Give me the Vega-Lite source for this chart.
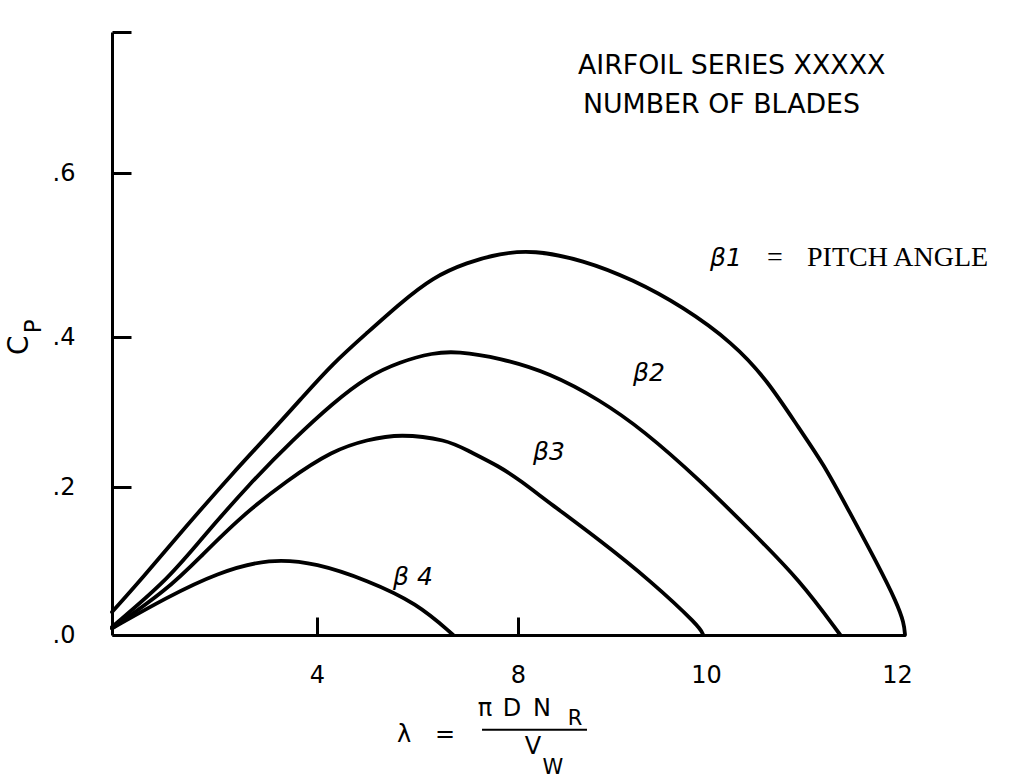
{
  "$schema": "https://vega.github.io/schema/vega-lite/v6.json",
  "width": 793,
  "height": 603,
  "autosize": {"type": "none"},
  "padding": {"left": 112, "top": 32, "right": 116, "bottom": 145},
  "background": "white",
  "config": {
    "view": {"stroke": null},
    "font": "DejaVu Sans",
    "axis": {
      "grid": false,
      "domainColor": "black",
      "domainWidth": 3,
      "tickColor": "black",
      "tickWidth": 3,
      "labelColor": "black",
      "labelFont": "DejaVu Sans",
      "labelFontSize": 24,
      "labelFlush": false
    }
  },
  "datasets": {
    "curves": [
      {"series": "β1", "lambda": 0, "cp": 0.031},
      {"series": "β1", "lambda": 0.605, "cp": 0.078},
      {"series": "β1", "lambda": 1.385, "cp": 0.142},
      {"series": "β1", "lambda": 2.361, "cp": 0.219},
      {"series": "β1", "lambda": 3.141, "cp": 0.276},
      {"series": "β1", "lambda": 3.668, "cp": 0.316},
      {"series": "β1", "lambda": 4.318, "cp": 0.365},
      {"series": "β1", "lambda": 4.995, "cp": 0.405},
      {"series": "β1", "lambda": 5.652, "cp": 0.441},
      {"series": "β1", "lambda": 6.308, "cp": 0.473},
      {"series": "β1", "lambda": 6.985, "cp": 0.491},
      {"series": "β1", "lambda": 7.642, "cp": 0.502},
      {"series": "β1", "lambda": 8.16, "cp": 0.506},
      {"series": "β1", "lambda": 8.691, "cp": 0.494},
      {"series": "β1", "lambda": 9.223, "cp": 0.47},
      {"series": "β1", "lambda": 9.755, "cp": 0.437},
      {"series": "β1", "lambda": 10.271, "cp": 0.392},
      {"series": "β1", "lambda": 10.613, "cp": 0.343},
      {"series": "β1", "lambda": 10.945, "cp": 0.276},
      {"series": "β1", "lambda": 11.176, "cp": 0.232},
      {"series": "β1", "lambda": 11.447, "cp": 0.165},
      {"series": "β1", "lambda": 11.719, "cp": 0.097},
      {"series": "β1", "lambda": 11.92, "cp": 0.043},
      {"series": "β1", "lambda": 11.99, "cp": 0.016},
      {"series": "β1", "lambda": 12.0, "cp": 0.0},
      {"series": "β2", "lambda": 0, "cp": 0.011},
      {"series": "β2", "lambda": 1.073, "cp": 0.074},
      {"series": "β2", "lambda": 1.717, "cp": 0.128},
      {"series": "β2", "lambda": 2.693, "cp": 0.205},
      {"series": "β2", "lambda": 3.532, "cp": 0.263},
      {"series": "β2", "lambda": 4.318, "cp": 0.312},
      {"series": "β2", "lambda": 4.995, "cp": 0.347},
      {"series": "β2", "lambda": 5.652, "cp": 0.367},
      {"series": "β2", "lambda": 6.308, "cp": 0.379},
      {"series": "β2", "lambda": 6.786, "cp": 0.381},
      {"series": "β2", "lambda": 7.642, "cp": 0.372},
      {"series": "β2", "lambda": 8.34, "cp": 0.352},
      {"series": "β2", "lambda": 8.872, "cp": 0.316},
      {"series": "β2", "lambda": 9.33, "cp": 0.276},
      {"series": "β2", "lambda": 9.936, "cp": 0.209},
      {"series": "β2", "lambda": 10.442, "cp": 0.142},
      {"series": "β2", "lambda": 10.945, "cp": 0.074},
      {"series": "β2", "lambda": 11.35, "cp": 0.0},
      {"series": "β3", "lambda": 0, "cp": 0.009},
      {"series": "β3", "lambda": 1.073, "cp": 0.061},
      {"series": "β3", "lambda": 1.717, "cp": 0.105},
      {"series": "β3", "lambda": 2.498, "cp": 0.159},
      {"series": "β3", "lambda": 3.415, "cp": 0.209},
      {"series": "β3", "lambda": 4.318, "cp": 0.249},
      {"series": "β3", "lambda": 4.995, "cp": 0.263},
      {"series": "β3", "lambda": 5.652, "cp": 0.271},
      {"series": "β3", "lambda": 6.587, "cp": 0.263},
      {"series": "β3", "lambda": 6.985, "cp": 0.249},
      {"series": "β3", "lambda": 7.642, "cp": 0.227},
      {"series": "β3", "lambda": 8.02, "cp": 0.209},
      {"series": "β3", "lambda": 8.34, "cp": 0.178},
      {"series": "β3", "lambda": 8.872, "cp": 0.128},
      {"series": "β3", "lambda": 9.404, "cp": 0.074},
      {"series": "β3", "lambda": 9.936, "cp": 0.011},
      {"series": "β3", "lambda": 9.97, "cp": 0.0},
      {"series": "β4", "lambda": 0, "cp": 0.009},
      {"series": "β4", "lambda": 1.073, "cp": 0.051},
      {"series": "β4", "lambda": 2.049, "cp": 0.084},
      {"series": "β4", "lambda": 3.083, "cp": 0.104},
      {"series": "β4", "lambda": 4.0, "cp": 0.097},
      {"series": "β4", "lambda": 4.995, "cp": 0.074},
      {"series": "β4", "lambda": 5.99, "cp": 0.043},
      {"series": "β4", "lambda": 6.71, "cp": 0.0}
    ],
    "curve_labels": [
      {"text": "β1", "lambda": 10.04, "cp": 0.496},
      {"text": "β2", "lambda": 9.223, "cp": 0.352},
      {"text": "β3", "lambda": 8.16, "cp": 0.247},
      {"text": "β 4", "lambda": 5.512, "cp": 0.078}
    ],
    "notes": [
      {"text": "AIRFOIL SERIES XXXXX", "lambda": 8.638, "cp": 0.729},
      {"text": "NUMBER OF BLADES", "lambda": 8.691, "cp": 0.682}
    ],
    "pitch_note": [
      {"text": "=", "lambda": 10.613, "cp": 0.496},
      {"text": "PITCH ANGLE", "lambda": 11.015, "cp": 0.496}
    ],
    "x_title": [
      {"text": "λ", "role": "base", "lambda": 5.731, "cp": -0.135},
      {"text": "=", "role": "base", "lambda": 6.547, "cp": -0.135},
      {"text": "π", "role": "base", "lambda": 7.343, "cp": -0.1},
      {"text": "D", "role": "base", "lambda": 7.881, "cp": -0.1},
      {"text": "N", "role": "base", "lambda": 8.255, "cp": -0.1},
      {"text": "R", "role": "sub", "lambda": 8.606, "cp": -0.1135},
      {"text": "V", "role": "base", "lambda": 8.16, "cp": -0.152},
      {"text": "W", "role": "sub", "lambda": 8.372, "cp": -0.18}
    ],
    "fraction_bar": [
      {"lambda": 7.284, "lambda2": 8.734, "cp": -0.128}
    ],
    "y_title": [
      {"text": "C", "role": "base", "lambda": -1.795, "cp": 0.389},
      {"text": "P", "role": "sub", "lambda": -1.522, "cp": 0.413}
    ]
  },
  "encoding": {
    "x": {
      "field": "lambda", "type": "quantitative",
      "scale": {"domain": [0, 4, 8, 10, 12], "range": [0, 205, 406, 594, 793], "nice": false, "zero": false},
      "axis": {
        "title": null,
        "values": [4, 8, 10, 12],
        "tickSize": -18,
        "labelPadding": 46,
        "labelBaseline": "top",
        "tickOpacity": {"condition": {"test": "datum.value >= 10", "value": 0}, "value": 1},
        "labelOffset": {"condition": {"test": "datum.value == 12", "value": -8}, "value": 0}
      }
    },
    "y": {
      "field": "cp", "type": "quantitative",
      "scale": {"domain": [0, 0.2, 0.4, 0.6, 0.77], "range": [603, 455, 305, 141, 0], "nice": false, "zero": false},
      "axis": {
        "title": null,
        "values": [0, 0.2, 0.4, 0.6, 0.77],
        "tickSize": -19,
        "labelPadding": 56,
        "labelExpr": "datum.value > 0.7 ? '' : replace(format(datum.value, '.1f'), '0.', '.')"
      }
    }
  },
  "layer": [
    {
      "data": {"name": "curves"},
      "mark": {"type": "line", "interpolate": "basis", "strokeWidth": 3.8, "strokeCap": "round", "color": "black", "clip": false},
      "encoding": {
        "detail": {"field": "series", "type": "nominal"}
      }
    },
    {
      "data": {"name": "curve_labels"},
      "mark": {"type": "text", "align": "left", "baseline": "middle", "font": "DejaVu Sans", "fontStyle": "italic", "fontSize": 25, "color": "black"},
      "encoding": {"text": {"field": "text"}}
    },
    {
      "data": {"name": "notes"},
      "mark": {"type": "text", "align": "left", "baseline": "middle", "font": "DejaVu Sans", "fontSize": 26.8, "color": "black"},
      "encoding": {"text": {"field": "text"}}
    },
    {
      "data": {"name": "pitch_note"},
      "mark": {"type": "text", "align": "left", "baseline": "middle", "font": "Liberation Serif", "fontSize": 28, "color": "black"},
      "encoding": {"text": {"field": "text"}}
    },
    {
      "data": {"name": "x_title"},
      "transform": [{"filter": "datum.role == 'base'"}],
      "mark": {"type": "text", "align": "center", "baseline": "middle", "font": "DejaVu Sans", "fontSize": 24, "color": "black"},
      "encoding": {"text": {"field": "text"}}
    },
    {
      "data": {"name": "x_title"},
      "transform": [{"filter": "datum.role == 'sub'"}],
      "mark": {"type": "text", "align": "center", "baseline": "middle", "font": "DejaVu Sans", "fontSize": 21, "color": "black"},
      "encoding": {"text": {"field": "text"}}
    },
    {
      "data": {"name": "fraction_bar"},
      "mark": {"type": "rule", "color": "black", "strokeWidth": 2},
      "encoding": {"x2": {"field": "lambda2"}}
    },
    {
      "data": {"name": "y_title"},
      "transform": [{"filter": "datum.role == 'base'"}],
      "mark": {"type": "text", "align": "center", "baseline": "middle", "font": "DejaVu Sans", "angle": 270, "fontSize": 28, "color": "black"},
      "encoding": {"text": {"field": "text"}}
    },
    {
      "data": {"name": "y_title"},
      "transform": [{"filter": "datum.role == 'sub'"}],
      "mark": {"type": "text", "align": "center", "baseline": "middle", "font": "DejaVu Sans", "angle": 270, "fontSize": 23, "color": "black"},
      "encoding": {"text": {"field": "text"}}
    }
  ]
}
